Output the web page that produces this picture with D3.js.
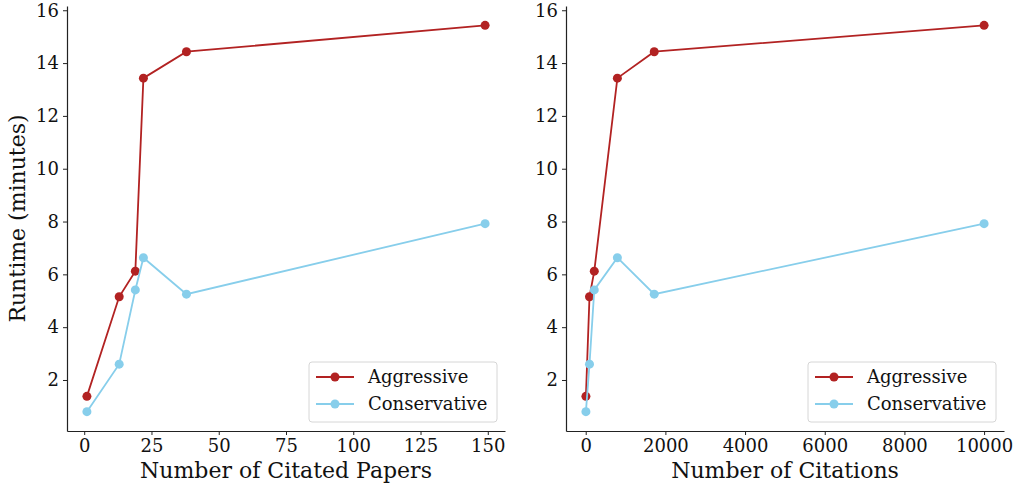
<!DOCTYPE html>
<html>
<meta charset="utf-8" />
<script src="https://d3js.org/d3.v7.min.js"></script>
<style>
  body { margin: 0; background: #fff; }
  text { font-family: "DejaVu Serif", serif; fill: #111; }
</style>
<body>
<svg id="chart" width="1016" height="488"></svg>
<script>
// data
var papers = [1, 13, 19, 22, 38, 149]
var citations = [5, 95, 215, 795, 1720, 10000]
var aggressive = [1.38, 5.15, 6.12, 13.43, 14.43, 15.43]
var conservative = [0.8, 2.6, 5.41, 6.63, 5.25, 7.92]
var yTicks = [2, 4, 6, 8, 10, 12, 14, 16]
var papersTicks = [0, 25, 50, 75, 100, 125, 150]
var citationTicks = [0, 2000, 4000, 6000, 8000, 10000]

var series = [
  { name: "Aggressive", values: aggressive, color: "#b22222" },
  { name: "Conservative", values: conservative, color: "#87ceeb" }
]

var svg = d3.select("#chart")

// matplotlib style 5% margins
function padded(lo, hi) {
  var m = (hi - lo) * 0.05
  return [lo - m, hi + m]
}

var allY = aggressive.concat(conservative)
var yDomain = padded(d3.min(allY), d3.max(allY))

function panel(left, right, xs, xTicks, xLabel, yLabel) {
  var top = 6, bottom = 431
  var x = d3.scaleLinear().domain(padded(d3.min(xs), d3.max(xs))).range([left, right])
  var y = d3.scaleLinear().domain(yDomain).range([bottom, top])

  var g = svg.append("g")

  var xa = g.append("g")
    .attr("transform", "translate(0," + bottom + ")")
    .call(d3.axisBottom(x).tickValues(xTicks).tickFormat(d3.format("d"))
      .tickSize(4).tickPadding(4).tickSizeOuter(0))
  var ya = g.append("g")
    .attr("transform", "translate(" + left + ",0)")
    .call(d3.axisLeft(y).tickValues(yTicks).tickSize(4).tickPadding(4).tickSizeOuter(0))

  ;[xa, ya].forEach(function(a) {
    a.select(".domain").attr("stroke", "#222").attr("stroke-width", 1.2)
    a.selectAll(".tick line").attr("stroke", "#222")
    a.selectAll(".tick text").style("font-family", "DejaVu Serif").style("font-size", "18px").attr("fill", "#111")
  })

  var line = d3.line()
    .x(function(d, i) { return x(xs[i]) })
    .y(function(d) { return y(d) })

  series.forEach(function(s) {
    g.append("path")
      .datum(s.values)
      .attr("fill", "none")
      .attr("stroke", s.color)
      .attr("stroke-width", 1.8)
      .attr("d", line)
    g.selectAll(null)
      .data(s.values)
      .enter()
      .append("circle")
      .attr("cx", function(d, i) { return x(xs[i]) })
      .attr("cy", function(d) { return y(d) })
      .attr("r", 4.5)
      .attr("fill", s.color)
  })

  g.append("text")
    .attr("x", (left + right) / 2)
    .attr("y", 478)
    .attr("text-anchor", "middle")
    .style("font-size", "22px")
    .text(xLabel)

  if (yLabel) {
    g.append("text")
      .attr("transform", "translate(25," + (top + bottom) / 2 + ") rotate(-90)")
      .attr("text-anchor", "middle")
      .style("font-size", "22px")
      .text(yLabel)
  }

  // legend, lower right
  var lw = 188, lh = 60
  var lx = right - 8 - lw, ly = bottom - 9 - lh
  var leg = g.append("g").attr("transform", "translate(" + lx + "," + ly + ")")
  leg.append("rect")
    .attr("width", lw).attr("height", lh).attr("rx", 3)
    .attr("fill", "#fff").attr("fill-opacity", 0.8)
    .attr("stroke", "#d6d6d6")
  series.forEach(function(s, i) {
    var cy = 15 + i * 27
    leg.append("line")
      .attr("x1", 7).attr("x2", 45).attr("y1", cy).attr("y2", cy)
      .attr("stroke", s.color).attr("stroke-width", 1.8)
    leg.append("circle").attr("cx", 26).attr("cy", cy).attr("r", 4.5).attr("fill", s.color)
    leg.append("text")
      .attr("x", 59).attr("y", cy + 6)
      .style("font-size", "18px")
      .text(s.name)
  })
}

panel(67, 505, papers, papersTicks, "Number of Citated Papers", "Runtime (minutes)")
panel(566, 1004, citations, citationTicks, "Number of Citations", null)
</script>
</body>
</html>
